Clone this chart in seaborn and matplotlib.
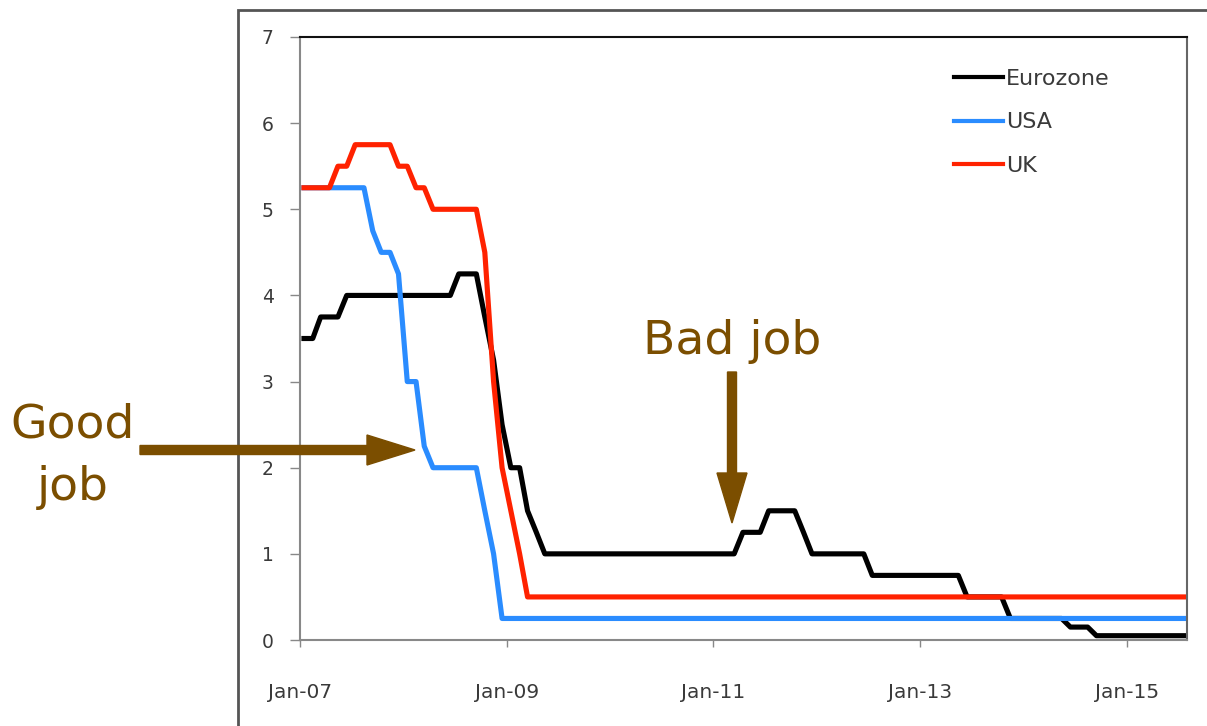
import pandas as pd
import numpy as np
import matplotlib
matplotlib.use("Agg")
import matplotlib.pyplot as plt
from matplotlib.patches import FancyArrow, Rectangle
from matplotlib.transforms import IdentityTransform
import seaborn as sns

# monthly policy rates, Jan-07 .. Aug-15 (one value per month, plotted mid-month)
months = pd.date_range("2007-01-01", "2015-08-01", freq="MS") + pd.Timedelta(days=14)

eurozone = [
    3.5, 3.5, 3.75, 3.75, 3.75, 4.0, 4.0, 4.0, 4.0, 4.0, 4.0, 4.0,          # 2007
    4.0, 4.0, 4.0, 4.0, 4.0, 4.0, 4.25, 4.25, 4.25, 3.75, 3.25, 2.5,       # 2008
    2.0, 2.0, 1.5, 1.25, 1.0, 1.0, 1.0, 1.0, 1.0, 1.0, 1.0, 1.0,           # 2009
    1.0, 1.0, 1.0, 1.0, 1.0, 1.0, 1.0, 1.0, 1.0, 1.0, 1.0, 1.0,            # 2010
    1.0, 1.0, 1.0, 1.25, 1.25, 1.25, 1.5, 1.5, 1.5, 1.5, 1.25, 1.0,        # 2011
    1.0, 1.0, 1.0, 1.0, 1.0, 1.0, 0.75, 0.75, 0.75, 0.75, 0.75, 0.75,      # 2012
    0.75, 0.75, 0.75, 0.75, 0.75, 0.5, 0.5, 0.5, 0.5, 0.5, 0.25, 0.25,     # 2013
    0.25, 0.25, 0.25, 0.25, 0.25, 0.15, 0.15, 0.15, 0.05, 0.05, 0.05, 0.05,  # 2014
    0.05, 0.05, 0.05, 0.05, 0.05, 0.05, 0.05, 0.05,                        # 2015
]
usa = [
    5.25, 5.25, 5.25, 5.25, 5.25, 5.25, 5.25, 5.25, 4.75, 4.5, 4.5, 4.25,
    3.0, 3.0, 2.25, 2.0, 2.0, 2.0, 2.0, 2.0, 2.0, 1.5, 1.0, 0.25,
    0.25, 0.25, 0.25, 0.25, 0.25, 0.25, 0.25, 0.25, 0.25, 0.25, 0.25, 0.25,
    0.25, 0.25, 0.25, 0.25, 0.25, 0.25, 0.25, 0.25, 0.25, 0.25, 0.25, 0.25,
    0.25, 0.25, 0.25, 0.25, 0.25, 0.25, 0.25, 0.25, 0.25, 0.25, 0.25, 0.25,
    0.25, 0.25, 0.25, 0.25, 0.25, 0.25, 0.25, 0.25, 0.25, 0.25, 0.25, 0.25,
    0.25, 0.25, 0.25, 0.25, 0.25, 0.25, 0.25, 0.25, 0.25, 0.25, 0.25, 0.25,
    0.25, 0.25, 0.25, 0.25, 0.25, 0.25, 0.25, 0.25, 0.25, 0.25, 0.25, 0.25,
    0.25, 0.25, 0.25, 0.25, 0.25, 0.25, 0.25, 0.25,
]
uk = [
    5.25, 5.25, 5.25, 5.25, 5.5, 5.5, 5.75, 5.75, 5.75, 5.75, 5.75, 5.5,
    5.5, 5.25, 5.25, 5.0, 5.0, 5.0, 5.0, 5.0, 5.0, 4.5, 3.0, 2.0,
    1.5, 1.0, 0.5, 0.5, 0.5, 0.5, 0.5, 0.5, 0.5, 0.5, 0.5, 0.5,
    0.5, 0.5, 0.5, 0.5, 0.5, 0.5, 0.5, 0.5, 0.5, 0.5, 0.5, 0.5,
    0.5, 0.5, 0.5, 0.5, 0.5, 0.5, 0.5, 0.5, 0.5, 0.5, 0.5, 0.5,
    0.5, 0.5, 0.5, 0.5, 0.5, 0.5, 0.5, 0.5, 0.5, 0.5, 0.5, 0.5,
    0.5, 0.5, 0.5, 0.5, 0.5, 0.5, 0.5, 0.5, 0.5, 0.5, 0.5, 0.5,
    0.5, 0.5, 0.5, 0.5, 0.5, 0.5, 0.5, 0.5, 0.5, 0.5, 0.5, 0.5,
    0.5, 0.5, 0.5, 0.5, 0.5, 0.5, 0.5, 0.5,
]
series_names = ["Eurozone", "USA", "UK"]
colors = {"Eurozone": "#000000", "USA": "#2A8CFF", "UK": "#FF2200"}
y_ticks = [0, 1, 2, 3, 4, 5, 6, 7]
x_tick_dates = pd.to_datetime(["2007-01-01", "2009-01-01", "2011-01-01",
                               "2013-01-01", "2015-01-01"])
x_tick_labels = ["Jan-07", "Jan-09", "Jan-11", "Jan-13", "Jan-15"]
brown = "#7B4E00"

df = pd.concat([
    pd.DataFrame({"date": months, "rate": vals, "zone": name})
    for name, vals in zip(series_names, [eurozone, usa, uk])
])

sns.set_style("white")
plt.rcParams["font.family"] = ["DejaVu Sans"]

fig = plt.figure(figsize=(12.07, 7.26), dpi=100)
ax = fig.add_axes([300 / 1207, 1 - 640 / 726, 887 / 1207, 603 / 726])

sns.lineplot(data=df, x="date", y="rate", hue="zone", hue_order=series_names,
             palette=colors, linewidth=3.7, solid_capstyle="projecting", ax=ax)

ax.set_xlim(pd.Timestamp("2007-01-01"), pd.Timestamp("2015-08-01"))
ax.set_ylim(0, 7)
ax.set_yticks(y_ticks)
ax.set_xticks(x_tick_dates)
ax.set_xticklabels(x_tick_labels)
ax.set_xlabel("")
ax.set_ylabel("")

ax.tick_params(axis="y", direction="out", length=7, width=1, color="#888888",
               labelsize=13.5, labelcolor="#3a3a3a", pad=12, left=True)
ax.tick_params(axis="x", direction="out", length=5, width=1, color="#888888",
               labelsize=14.5, labelcolor="#3a3a3a", pad=26, bottom=True)

for side in ["left", "bottom"]:
    ax.spines[side].set_color("#888888")
    ax.spines[side].set_linewidth(1.5)
ax.spines["top"].set_color("#111111")
ax.spines["top"].set_linewidth(1.5)
ax.spines["right"].set_color("#666666")
ax.spines["right"].set_linewidth(1.5)

ax.legend(loc="upper left", bbox_to_anchor=(943 / 1207, 1 - 58 / 726),
          bbox_transform=fig.transFigure, frameon=False, fontsize=16,
          handlelength=2.2, handletextpad=0.15, labelspacing=1.05,
          borderpad=0, labelcolor="#3a3a3a")
for line in ax.get_legend().get_lines():
    line.set_linewidth(3)

# outer chart frame
fig.patches.append(Rectangle((238 / 1207, -0.1), 1.0, 1 - 10 / 726 + 0.1,
                             transform=fig.transFigure, fill=False,
                             edgecolor="#555555", linewidth=2))

# annotations, positions in pixels from bottom-left
H = 726
fig.patches.append(FancyArrow(140, H - 450, 275, 0, width=9, head_width=30,
                              head_length=48, length_includes_head=True,
                              color=brown, transform=IdentityTransform()))
fig.patches.append(FancyArrow(732, H - 372, 0, -151, width=9, head_width=30,
                              head_length=50, length_includes_head=True,
                              color=brown, transform=IdentityTransform()))
fig.text(73 / 1207, 1 - 456 / 726, "Good\njob", ha="center", va="center",
         fontsize=34, color=brown, linespacing=1.5)
fig.text(732 / 1207, 1 - 342 / 726, "Bad job", ha="center", va="center",
         fontsize=34, color=brown)

fig.savefig("out.png", dpi=100)
